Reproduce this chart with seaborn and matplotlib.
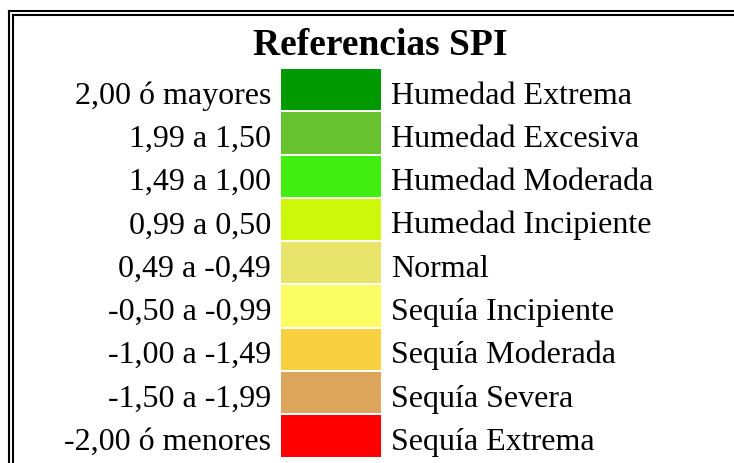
import matplotlib
matplotlib.use("Agg")
import matplotlib.pyplot as plt
from matplotlib.lines import Line2D
from matplotlib.transforms import ScaledTranslation
import pandas as pd
import seaborn as sns

# table content
ranges = ["2,00 ó mayores", "1,99 a 1,50", "1,49 a 1,00", "0,99 a 0,50",
          "0,49 a -0,49", "-0,50 a -0,99", "-1,00 a -1,49", "-1,50 a -1,99",
          "-2,00 ó menores"]
labels = ["Humedad Extrema", "Humedad Excesiva", "Humedad Moderada",
          "Humedad Incipiente", "Normal", "Sequía Incipiente",
          "Sequía Moderada", "Sequía Severa", "Sequía Extrema"]
colors = ["#009900", "#68C12E", "#40EE10", "#CEF80A", "#E8E46A",
          "#FCFC64", "#F9D140", "#DBA55B", "#FF0000"]
swatch = [1, 1, 1, 1, 1, 1, 1, 1, 1]

df = pd.DataFrame(dict(rango=ranges, swatch=swatch))

W, H = 734, 464
fig = plt.figure(figsize=(W / 100, H / 100), dpi=100)
fig.patch.set_facecolor("white")

ax = fig.add_axes([281 / W, (H - 458.5) / H, 100 / W, 389.5 / H])
sns.barplot(data=df, x="swatch", y="rango", hue="rango", palette=colors,
            legend=False, width=0.954, orient="h", ax=ax, saturation=1)
ax.set_xlim(0, 1)
ax.set_xlabel("")
ax.set_ylabel("")
ax.set_xticks([])
for s in ax.spines.values():
    s.set_visible(False)
ax.tick_params(axis="y", length=0, pad=7.2, labelsize=23)

ax2 = ax.twinx()
ax2.set_ylim(ax.get_ylim())
ax2.set_yticks(range(len(labels)))
ax2.set_yticklabels(labels, fontsize=23)
ax2.tick_params(axis="y", length=0, pad=7.2)
for s in ax2.spines.values():
    s.set_visible(False)

# text baseline sits ~13px below the swatch centre
shift = ScaledTranslation(0, -13 / 100, fig.dpi_scale_trans)
for a in (ax, ax2):
    for t in a.get_yticklabels():
        t.set_fontfamily("Liberation Serif")
        t.set_va("baseline")
        t.set_transform(t.get_transform() + shift)

fig.text(380 / W, 1 - 55 / H, "Referencias SPI", ha="center", va="baseline",
         fontsize=27, fontweight="bold", fontfamily="Liberation Serif")

# double border (top and left)
def px(x, y):
    return x / W, 1 - y / H

for off in (9, 13):
    x0, y0 = px(off, off + 3)
    fig.add_artist(Line2D([x0, 1], [y0, y0], color="black", lw=1.5))
    fig.add_artist(Line2D([x0, x0], [y0, 0], color="black", lw=1.5))

fig.savefig("out.png", dpi=100)
